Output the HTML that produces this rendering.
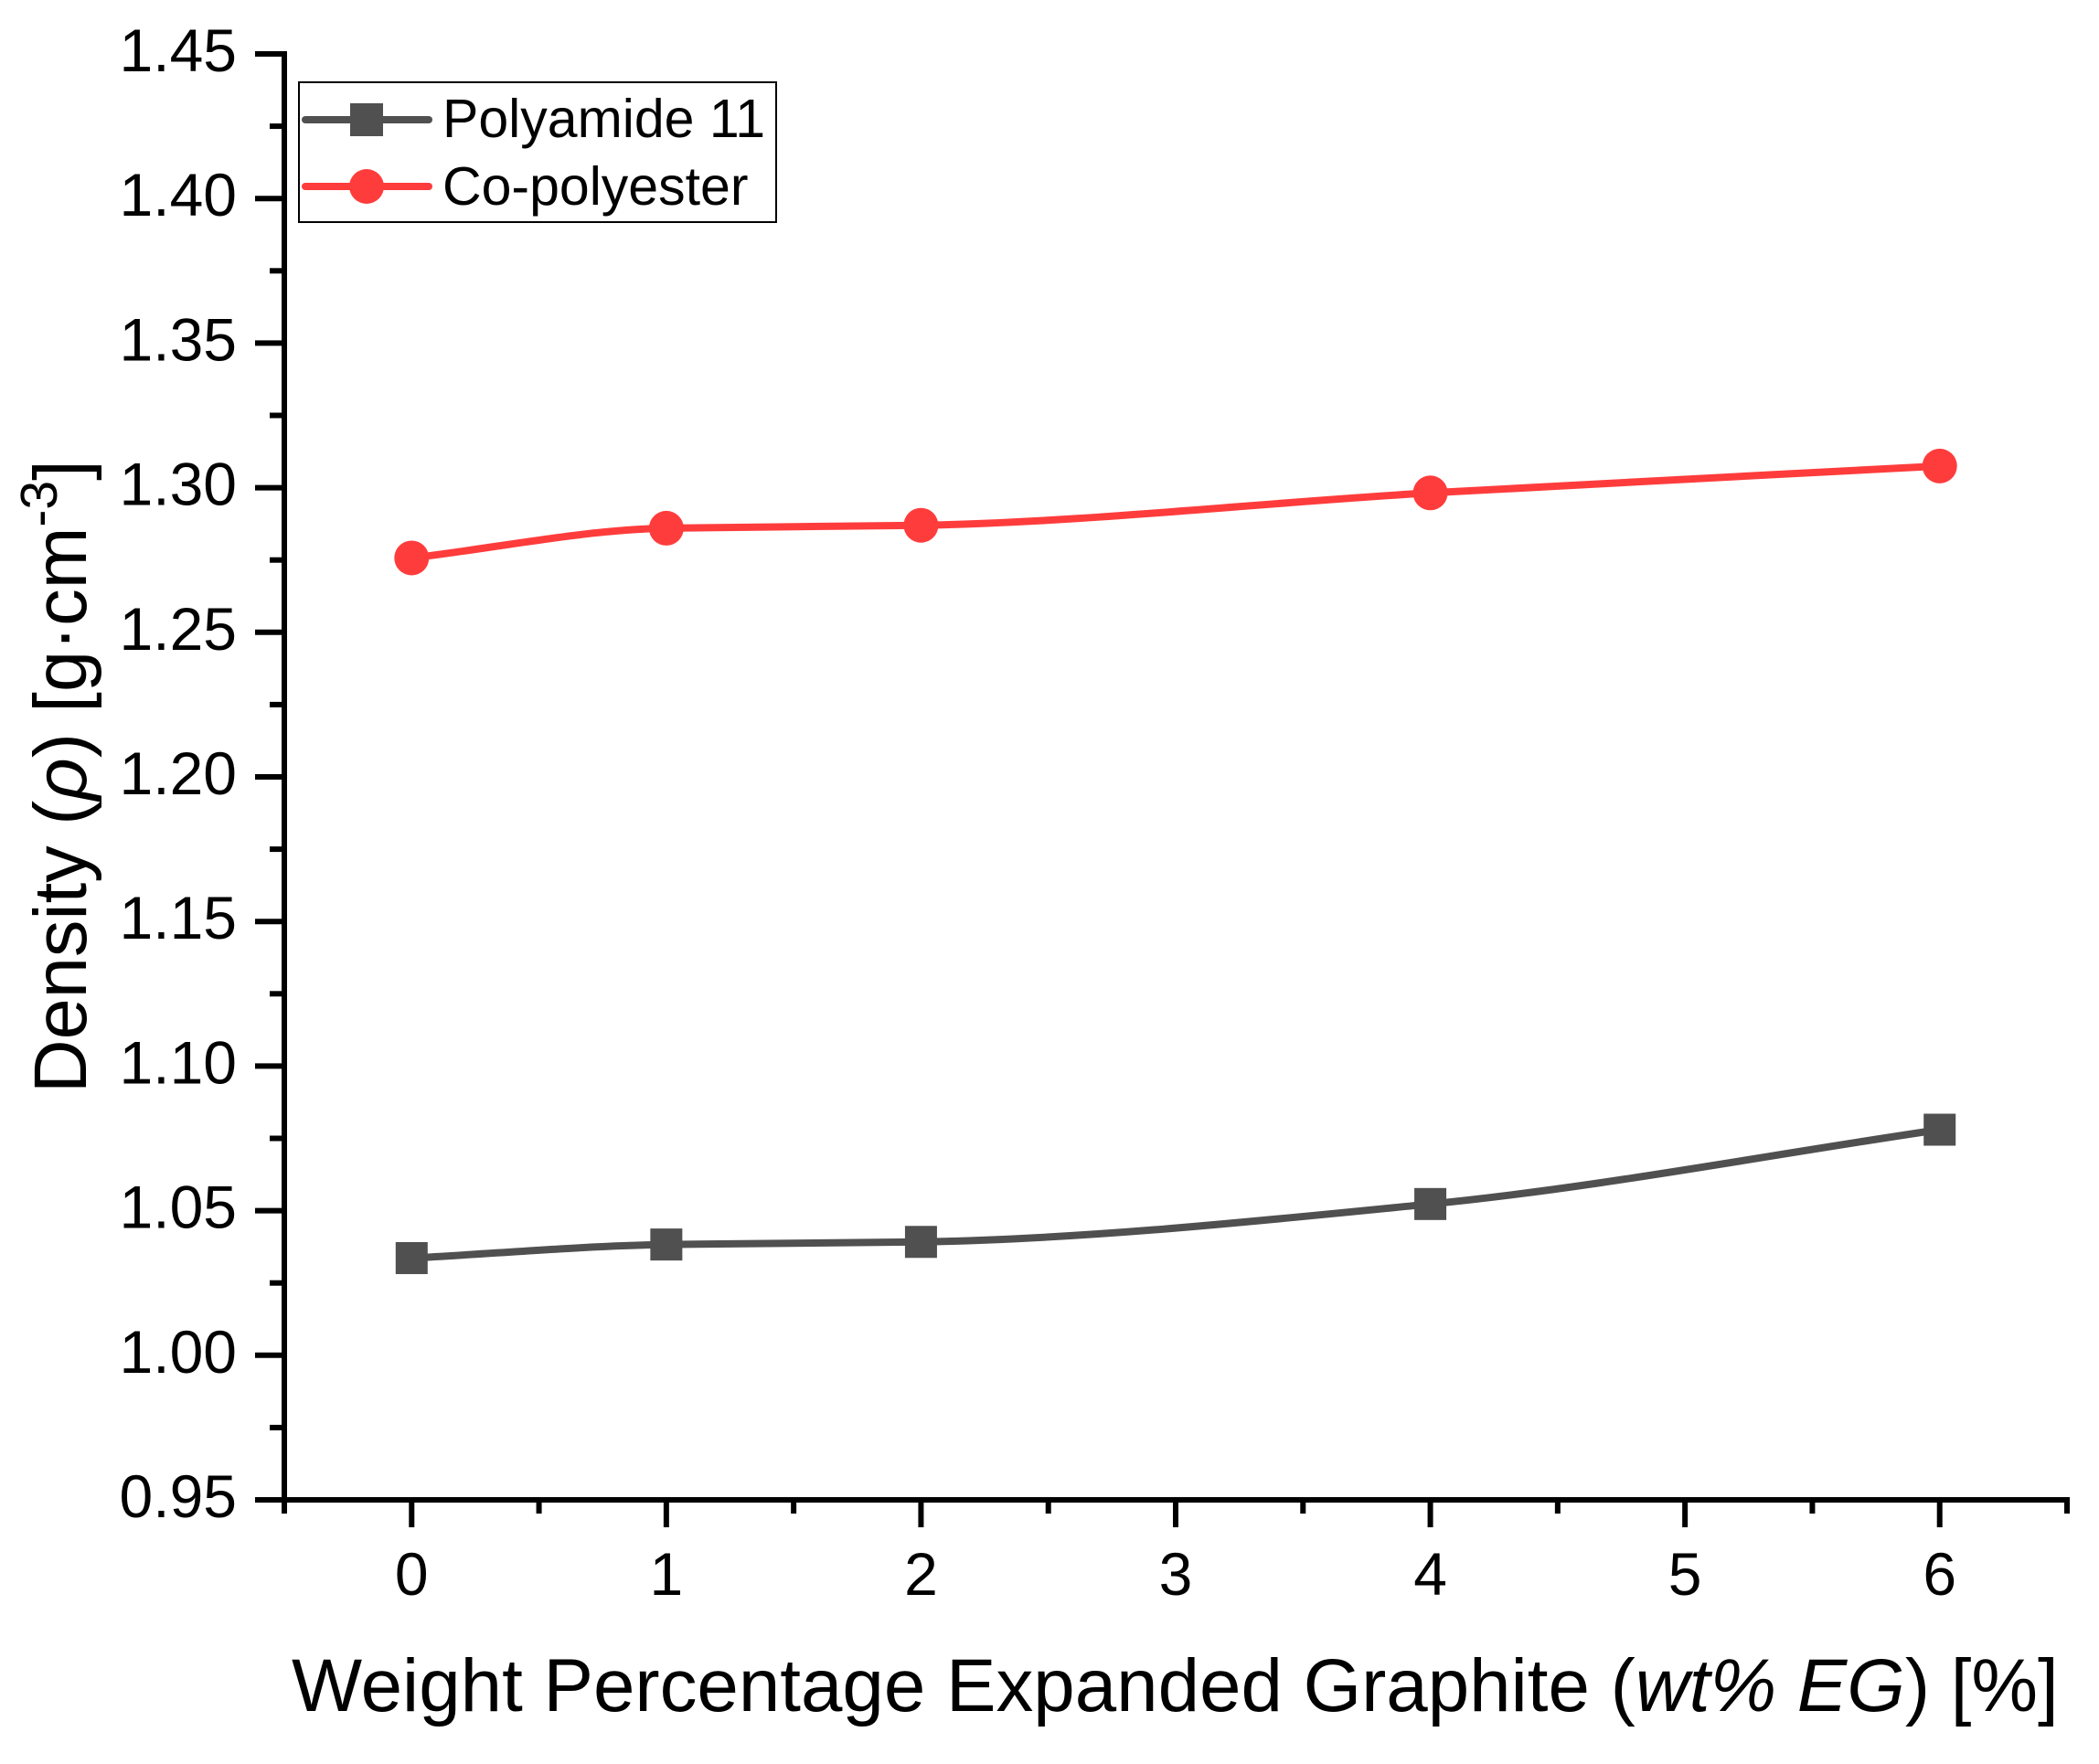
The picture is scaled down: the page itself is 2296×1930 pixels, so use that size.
<!DOCTYPE html>
<html lang="en">
<head>
<meta charset="utf-8">
<title>Density vs Weight Percentage Expanded Graphite</title>
<style>
html,body{margin:0;padding:0;background:#fff;width:2296px;height:1930px;overflow:hidden}
svg{display:block}
text{font-family:"Liberation Sans",Arial,sans-serif;fill:#000}
</style>
</head>
<body>
<svg id="chart" xmlns="http://www.w3.org/2000/svg" width="2296" height="1930" viewBox="0 0 2296 1930">
  <rect x="0" y="0" width="2296" height="1930" fill="#ffffff"/>
  <g id="axes"></g>
  <g id="series"></g>
  <text x="319" y="1872" font-size="81.7">Weight Percentage Expanded Graphite (<tspan font-style="italic">wt% EG</tspan>) [%]</text>
  <text transform="translate(94,1196) rotate(-90)" font-size="81.2">Density (<tspan font-style="italic">ρ</tspan>) [g·cm<tspan font-size="57" dy="-32">-3</tspan><tspan dy="32">]</tspan></text>
  <g>
    <rect x="327" y="90" width="522" height="153" fill="#ffffff" stroke="#000000" stroke-width="2"/>
    <g>
      <line x1="334" y1="131" x2="469" y2="131" stroke="#505050" stroke-width="8" stroke-linecap="round"/>
      <rect x="383" y="113" width="36" height="36" fill="#505050"/>
      <text x="484" y="150" font-size="59">Polyamide 11</text>
    </g>
    <g>
      <line x1="334" y1="204" x2="469" y2="204" stroke="#ff3c3c" stroke-width="8" stroke-linecap="round"/>
      <circle cx="401" cy="204" r="19" fill="#ff3c3c"/>
      <text x="484" y="224" font-size="59">Co-polyester</text>
    </g>
  </g>
</svg>
<script>
const categories = [0, 1, 2, 4, 6];
const polyamide11 = [1.0336, 1.0383, 1.0392, 1.0523, 1.0780];
const coPolyester = [1.2757, 1.2860, 1.2870, 1.2982, 1.3075];
const yTickLabels = ["0.95", "1.00", "1.05", "1.10", "1.15", "1.20", "1.25", "1.30", "1.35", "1.40", "1.45"];
const xTickLabels = ["0", "1", "2", "3", "4", "5", "6"];

const svgNS = "http://www.w3.org/2000/svg";
const axesGroup = document.getElementById("axes");
const seriesGroup = document.getElementById("series");
const X_MIN = -0.5, X_MAX = 6.5, Y_MIN = 0.95, Y_MAX = 1.45;
const LEFT = 311, RIGHT = 2261, TOP = 59, BOTTOM = 1641;

function xScale(v) { return LEFT + (v - X_MIN) / (X_MAX - X_MIN) * (RIGHT - LEFT); }
function yScale(v) { return BOTTOM - (v - Y_MIN) / (Y_MAX - Y_MIN) * (BOTTOM - TOP); }

function makeLine(x1, y1, x2, y2, w) {
  const el = document.createElementNS(svgNS, "line");
  el.setAttribute("x1", x1);
  el.setAttribute("y1", y1);
  el.setAttribute("x2", x2);
  el.setAttribute("y2", y2);
  el.setAttribute("stroke", "#000");
  el.setAttribute("stroke-width", w);
  axesGroup.appendChild(el);
  return el;
}

function makeLabel(x, y, anchor, str) {
  const el = document.createElementNS(svgNS, "text");
  el.setAttribute("x", x);
  el.setAttribute("y", y);
  el.setAttribute("text-anchor", anchor);
  el.setAttribute("font-size", "66");
  el.textContent = str;
  axesGroup.appendChild(el);
  return el;
}

/* y axis */
const yAxisLine = makeLine(LEFT, TOP - 3, LEFT, BOTTOM + 3, 6);


yTickLabels.forEach(function (lab, i) {
  const v = parseFloat(lab);
  const y = yScale(v);
  const t = makeLine(279, y, LEFT, y, 6);
  
  
  const l = makeLabel(259, y + 19, "end", lab);
  
  
  if (i < yTickLabels.length - 1) {
    const next = parseFloat(yTickLabels[i + 1]);
    const my = yScale((v + next) / 2);
    const m = makeLine(295, my, LEFT, my, 6);
    
    
  }
});

/* x axis */
const xAxisLine = makeLine(LEFT - 32, BOTTOM, RIGHT + 3, BOTTOM, 6);


xTickLabels.forEach(function (lab, i) {
  const v = parseFloat(lab);
  const x = xScale(v);
  const t = makeLine(x, BOTTOM, x, 1671, 6);
  
  
  const l = makeLabel(x, 1745, "middle", lab);
  
  
  const before = makeLine(xScale(v - 0.5), BOTTOM, xScale(v - 0.5), 1656, 6);
  
  
  if (i === xTickLabels.length - 1) {
    const after = makeLine(xScale(v + 0.5), BOTTOM, xScale(v + 0.5), 1656, 6);
    
    
  }
});

/* monotone curve through the data points (no overshoot between knots) */
function splinePath(xs, ys) {
  const n = xs.length;
  const secants = [];
  for (let i = 0; i < n - 1; i++) secants.push((ys[i + 1] - ys[i]) / (xs[i + 1] - xs[i]));
  const slopes = [];
  for (let i = 0; i < n; i++) {
    if (i === 0) slopes.push(secants[0]);
    else if (i === n - 1) slopes.push(secants[n - 2]);
    else if (secants[i - 1] * secants[i] <= 0) slopes.push(0);
    else slopes.push(2 * secants[i - 1] * secants[i] / (secants[i - 1] + secants[i]));
  }
  let d = "M" + xScale(xs[0]) + " " + yScale(ys[0]);
  for (let i = 0; i < n - 1; i++) {
    const h = xs[i + 1] - xs[i];
    d += " C" + xScale(xs[i] + h / 3) + " " + yScale(ys[i] + slopes[i] * h / 3) +
         " " + xScale(xs[i + 1] - h / 3) + " " + yScale(ys[i + 1] - slopes[i + 1] * h / 3) +
         " " + xScale(xs[i + 1]) + " " + yScale(ys[i + 1]);
  }
  return d;
}

/* polyamide series */
const polyLine = document.createElementNS(svgNS, "path");


polyLine.setAttribute("d", splinePath(categories, polyamide11));
polyLine.setAttribute("fill", "none");
polyLine.setAttribute("stroke", "#505050");
polyLine.setAttribute("stroke-width", "8");
seriesGroup.appendChild(polyLine);
polyamide11.forEach(function (v, i) {
  const m = document.createElementNS(svgNS, "rect");
  
  
  m.setAttribute("x", xScale(categories[i]) - 17.5);
  m.setAttribute("y", yScale(v) - 17.5);
  m.setAttribute("width", 35);
  m.setAttribute("height", 35);
  m.setAttribute("fill", "#505050");
  seriesGroup.appendChild(m);
});

/* co-polyester series */
const coLine = document.createElementNS(svgNS, "path");


coLine.setAttribute("d", splinePath(categories, coPolyester));
coLine.setAttribute("fill", "none");
coLine.setAttribute("stroke", "#ff3c3c");
coLine.setAttribute("stroke-width", "8");
seriesGroup.appendChild(coLine);
coPolyester.forEach(function (v, i) {
  const m = document.createElementNS(svgNS, "circle");
  
  
  m.setAttribute("cx", xScale(categories[i]));
  m.setAttribute("cy", yScale(v));
  m.setAttribute("r", 19);
  m.setAttribute("fill", "#ff3c3c");
  seriesGroup.appendChild(m);
});
</script>
</body>
</html>
